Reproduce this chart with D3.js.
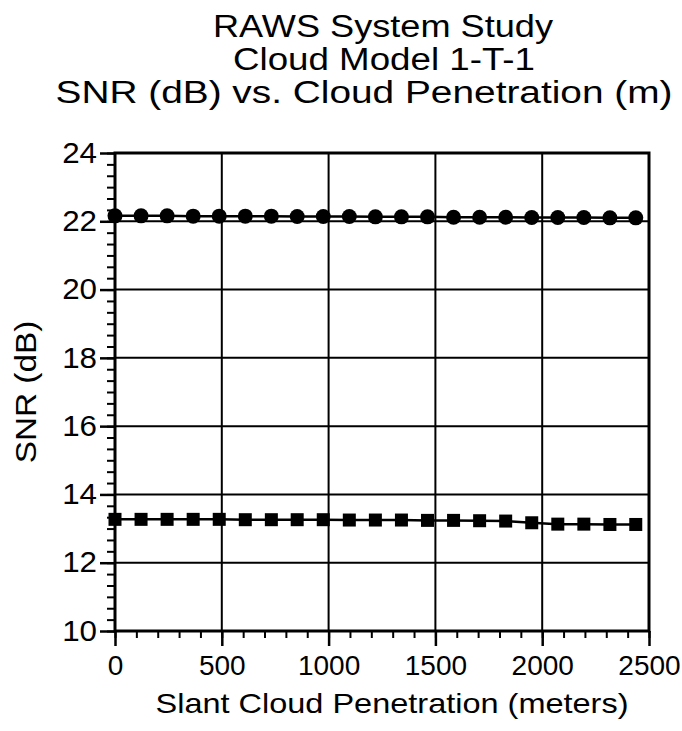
<!DOCTYPE html>
<html>
<head>
<meta charset="utf-8">
<script src="https://cdn.jsdelivr.net/npm/d3@7"></script>
<style>
  body { margin: 0; background: #fff; }
  svg text { font-family: "Liberation Sans", Arial, sans-serif; fill: #000; }
</style>
</head>
<body>
<svg id="chart" width="682" height="731"></svg>
<script>
// slant penetration (m)
const penetration = [0, 122, 244, 366, 488, 610, 732, 853, 975, 1097, 1219, 1341, 1463, 1585, 1707, 1829, 1951, 2073, 2195, 2317, 2438];
// upper curve (circles)
const snrCircle = [22.16, 22.16, 22.16, 22.15, 22.15, 22.15, 22.15, 22.14, 22.14, 22.14, 22.13, 22.13, 22.13, 22.12, 22.12, 22.12, 22.11, 22.11, 22.11, 22.10, 22.10];
// lower curve (squares)
const snrSquare = [13.27, 13.27, 13.27, 13.27, 13.27, 13.26, 13.26, 13.26, 13.26, 13.25, 13.25, 13.25, 13.24, 13.24, 13.23, 13.22, 13.17, 13.13, 13.13, 13.12, 13.12];

const xTicks = [0, 500, 1000, 1500, 2000, 2500];
const yTicks = [10, 12, 14, 16, 18, 20, 22, 24];
const titleLines = ["RAWS System Study", "Cloud Model 1-T-1", "SNR (dB) vs. Cloud Penetration (m)"];

const svg = d3.select("#chart");
const margin = { top: 153, right: 33, bottom: 100, left: 115 };
const width = 682, height = 731;

const x = d3.scaleLinear().domain([0, 2500]).range([margin.left, width - margin.right]);
const y = d3.scaleLinear().domain([10, 24]).range([height - margin.bottom, margin.top]);

// the scanned lettering is wider than Arial, so stretch it
function widen(sel, k) {
  sel.each(function () {
    const w = this.getComputedTextLength();
    d3.select(this).attr("textLength", w * k).attr("lengthAdjust", "spacingAndGlyphs");
  });
}

// grid
svg.append("g")
  .selectAll("line")
  .data(xTicks)
  .join("line")
  .attr("x1", d => x(d)).attr("x2", d => x(d))
  .attr("y1", y(10)).attr("y2", y(24))
  .attr("stroke", "#000").attr("stroke-width", 2);

svg.append("g")
  .selectAll("line")
  .data(yTicks)
  .join("line")
  .attr("x1", x(0)).attr("x2", x(2500))
  .attr("y1", d => y(d)).attr("y2", d => y(d))
  .attr("stroke", "#000").attr("stroke-width", 2);

// minor ticks
const xMinor = d3.range(0, 2501, 100);
const yMinor = d3.range(10, 24.01, 1 / 3);

svg.append("g")
  .attr("transform", `translate(0,${y(10)})`)
  .call(d3.axisBottom(x).tickValues(xMinor).tickSize(7).tickFormat(""))
  .call(g => g.select(".domain").remove())
  .selectAll("line").attr("stroke-width", 2);

svg.append("g")
  .attr("transform", `translate(${x(0)},0)`)
  .call(d3.axisLeft(y).tickValues(yMinor).tickSize(8).tickFormat(""))
  .call(g => g.select(".domain").remove())
  .selectAll("line").attr("stroke-width", 2);

// major axes
const gx = svg.append("g")
  .attr("transform", `translate(0,${y(10)})`)
  .call(d3.axisBottom(x).tickValues(xTicks).tickSize(15).tickPadding(9).tickFormat(d3.format("d")));
gx.select(".domain").remove();
gx.selectAll("line").attr("stroke-width", 2.5);
gx.selectAll("text").attr("font-size", 28).attr("fill", "#000");

const gy = svg.append("g")
  .attr("transform", `translate(${x(0)},0)`)
  .call(d3.axisLeft(y).tickValues(yTicks).tickSize(15).tickPadding(3).tickFormat(d3.format("d")));
gy.select(".domain").remove();
gy.selectAll("line").attr("stroke-width", 2.5);
gy.selectAll("text").attr("font-size", 29).attr("fill", "#000").call(widen, 1.08);

// frame
svg.append("rect")
  .attr("x", x(0)).attr("y", y(24))
  .attr("width", x(2500) - x(0)).attr("height", y(10) - y(24))
  .attr("fill", "none").attr("stroke", "#000").attr("stroke-width", 3);

// series
const line = d3.line().x((d, i) => x(penetration[i])).y(d => y(d));

svg.append("path").datum(snrCircle)
  .attr("d", line).attr("fill", "none").attr("stroke", "#000").attr("stroke-width", 2.5);
svg.append("path").datum(snrSquare)
  .attr("d", line).attr("fill", "none").attr("stroke", "#000").attr("stroke-width", 2.5);

svg.append("g")
  .selectAll("circle")
  .data(snrCircle)
  .join("circle")
  .attr("cx", (d, i) => x(penetration[i]))
  .attr("cy", d => y(d))
  .attr("r", 7.5)
  .attr("fill", "#000");

svg.append("g")
  .selectAll("rect")
  .data(snrSquare)
  .join("rect")
  .attr("x", (d, i) => x(penetration[i]) - 6.5)
  .attr("y", d => y(d) - 6.5)
  .attr("width", 13).attr("height", 13)
  .attr("fill", "#000");

// titles
const titleWidths = [340, 302, 617];
const titleCenters = [383, 384, 364];
svg.append("g")
  .selectAll("text")
  .data(titleLines)
  .join("text")
  .attr("x", (d, i) => titleCenters[i])
  .attr("y", (d, i) => 37 + i * 33)
  .attr("text-anchor", "middle")
  .attr("font-size", 31)
  .attr("textLength", (d, i) => titleWidths[i])
  .attr("lengthAdjust", "spacingAndGlyphs")
  .text(d => d);

svg.append("text")
  .attr("x", 392)
  .attr("y", 713)
  .attr("text-anchor", "middle")
  .attr("font-size", 28)
  .text("Slant Cloud Penetration (meters)")
  .call(widen, 1.16);

svg.append("text")
  .attr("transform", `translate(36,${(y(10) + y(24)) / 2}) rotate(-90)`)
  .attr("text-anchor", "middle")
  .attr("font-size", 29)
  .text("SNR (dB)")
  .call(widen, 1.15);
</script>
</body>
</html>
